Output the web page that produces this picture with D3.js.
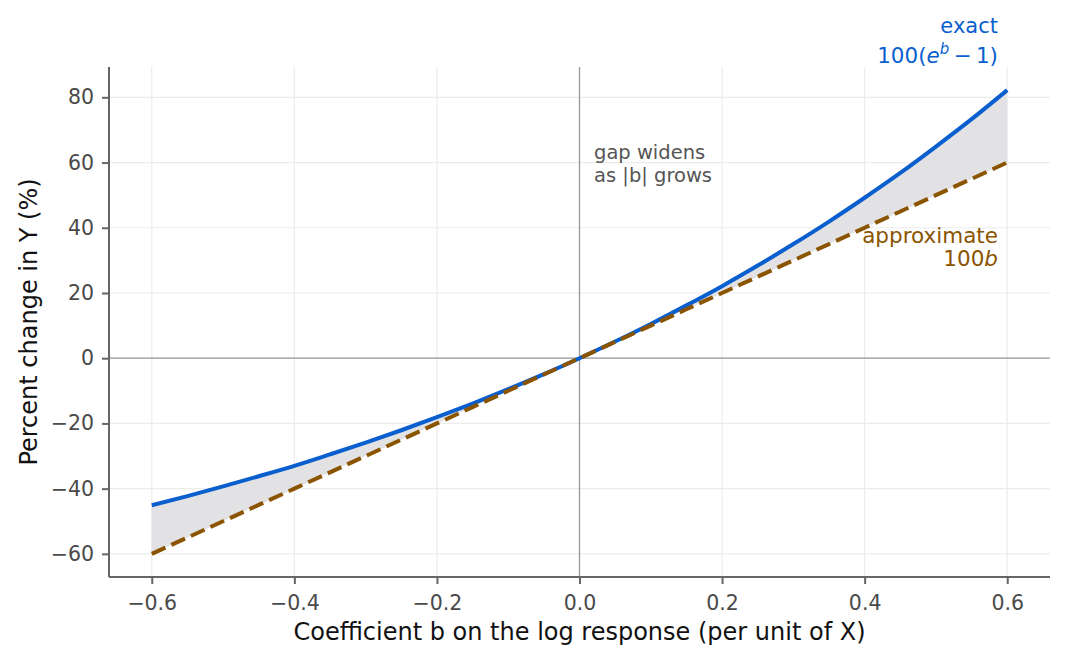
<!DOCTYPE html>
<html>
<head>
<meta charset="utf-8">
<script src="https://cdn.jsdelivr.net/npm/d3@7"></script>
<style>
body { margin: 0; background: #fff; }
svg { font-family: "DejaVu Sans", sans-serif; }
</style>
</head>
<body>
<svg id="chart" width="1068" height="662"></svg>
<script>
// coefficient values along the x axis
var bValues = [-0.6, -0.55, -0.5, -0.45, -0.4, -0.35, -0.3, -0.25, -0.2, -0.15, -0.1, -0.05,
	0, 0.05, 0.1, 0.15, 0.2, 0.25, 0.3, 0.35, 0.4, 0.45, 0.5, 0.55, 0.6];
// exact percent change
var exactPct = [-45.1, -42.3, -39.3, -36.2, -33.0, -29.5, -25.9, -22.1, -18.1, -13.9, -9.5, -4.9,
	0, 5.1, 10.5, 16.2, 22.1, 28.4, 35.0, 41.9, 49.2, 56.8, 64.9, 73.3, 82.2];
// approximate percent change
var approxPct = [-60, -55, -50, -45, -40, -35, -30, -25, -20, -15, -10, -5,
	0, 5, 10, 15, 20, 25, 30, 35, 40, 45, 50, 55, 60];
var xTicks = [-0.6, -0.4, -0.2, 0.0, 0.2, 0.4, 0.6];
var yTicks = [-60, -40, -20, 0, 20, 40, 60, 80];

var svg = d3.select("#chart");
// plot box (avoid "top", it's window.top)
var plotL = 109, plotR = 1050, plotT = 67, plotB = 577;

var x = d3.scaleLinear().domain([-0.66, 0.66]).range([plotL, plotR]);
var y = d3.scaleLinear().domain([-67.1, 89.3]).range([plotB, plotT]);

var rows = bValues.map(function(b, i) { return { b: b, e: exactPct[i], a: approxPct[i] }; });

var blue = "#0a5fcf", brown = "#8b5400";

// grid
svg.append("g").selectAll("line").data(xTicks).enter().append("line")
	.attr("x1", function(d) { return x(d); }).attr("x2", function(d) { return x(d); })
	.attr("y1", plotT).attr("y2", plotB)
	.attr("stroke", "#ececec").attr("stroke-width", 1.2);
svg.append("g").selectAll("line").data(yTicks).enter().append("line")
	.attr("x1", plotL).attr("x2", plotR)
	.attr("y1", function(d) { return y(d); }).attr("y2", function(d) { return y(d); })
	.attr("stroke", "#ececec").attr("stroke-width", 1.2);

// zero reference lines
svg.append("line").attr("x1", x(0)).attr("x2", x(0)).attr("y1", plotT).attr("y2", plotB)
	.attr("stroke", "#9a9a9a").attr("stroke-width", 1.3);
svg.append("line").attr("x1", plotL).attr("x2", plotR).attr("y1", y(0)).attr("y2", y(0))
	.attr("stroke", "#9a9a9a").attr("stroke-width", 1.3);

// gap area
var area = d3.area()
	.x(function(d) { return x(d.b); })
	.y0(function(d) { return y(d.a); })
	.y1(function(d) { return y(d.e); })
	.curve(d3.curveMonotoneX);
svg.append("path").datum(rows).attr("d", area)
	.attr("fill", "#e2e2e4").attr("stroke", "none");

var exactLine = d3.line().x(function(d) { return x(d.b); }).y(function(d) { return y(d.e); })
	.curve(d3.curveMonotoneX);
var approxLine = d3.line().x(function(d) { return x(d.b); }).y(function(d) { return y(d.a); });

svg.append("path").datum(rows).attr("d", exactLine)
	.attr("fill", "none").attr("stroke", blue).attr("stroke-width", 4);
svg.append("path").datum(rows).attr("d", approxLine)
	.attr("fill", "none").attr("stroke", brown).attr("stroke-width", 4)
	.attr("stroke-dasharray", "15,6.5");

// axes
var minus = function(s) { return s.replace("-", "\u2212"); };
var xAxis = d3.axisBottom(x).tickValues(xTicks).tickSizeOuter(0).tickSize(7).tickPadding(11)
	.tickFormat(function(d) { return minus(d3.format(".1f")(d)); });
var yAxis = d3.axisLeft(y).tickValues(yTicks).tickSizeOuter(0).tickSize(7).tickPadding(8)
	.tickFormat(function(d) { return minus(String(d)); });

var gx = svg.append("g").attr("transform", "translate(0," + plotB + ")").call(xAxis);
var gy = svg.append("g").attr("transform", "translate(" + plotL + ",0)").call(yAxis);
[gx, gy].forEach(function(g) {
	g.attr("font-size", null).attr("font-family", null);
	g.select(".domain").attr("stroke", "#666").attr("stroke-width", 2);
	g.selectAll(".tick line").attr("stroke", "#666").attr("stroke-width", 2);
	g.selectAll(".tick text").attr("fill", "#4a4a4a").attr("font-size", "20.5px");
});
gx.select(".domain").attr("d", "M" + plotL + ",0H" + plotR);
gy.select(".domain").attr("d", "M0," + plotB + "V" + plotT);

// axis labels
svg.append("text").attr("x", (plotL + plotR) / 2).attr("y", 640)
	.attr("text-anchor", "middle").attr("font-size", "24px").attr("fill", "#111")
	.text("Coefficient b on the log response (per unit of X)");
svg.append("text").attr("transform", "translate(37," + ((plotT + plotB) / 2) + ") rotate(-90)")
	.attr("text-anchor", "middle").attr("font-size", "24px").attr("fill", "#111")
	.text("Percent change in Y (%)");

// annotations
svg.append("text").attr("x", 998).attr("y", 33).attr("text-anchor", "end")
	.attr("font-size", "21px").attr("fill", blue).text("exact");
var t2 = svg.append("text").attr("x", 998).attr("y", 63).attr("text-anchor", "end")
	.attr("font-size", "21.5px").attr("fill", blue);
t2.append("tspan").text("100(");
t2.append("tspan").attr("font-style", "italic").text("e");
t2.append("tspan").attr("font-style", "italic").attr("font-size", "15px").attr("dy", -9).text("b");
t2.append("tspan").attr("dy", 9).text("\u2009\u2212\u20091)");

svg.append("text").attr("x", 998).attr("y", 243).attr("text-anchor", "end")
	.attr("font-size", "21.5px").attr("fill", brown).text("approximate");
var t4 = svg.append("text").attr("x", 998).attr("y", 266).attr("text-anchor", "end")
	.attr("font-size", "21.5px").attr("fill", brown);
t4.append("tspan").text("100");
t4.append("tspan").attr("font-style", "italic").text("b");

svg.append("text").attr("x", 594).attr("y", 159).attr("font-size", "19.5px").attr("fill", "#555")
	.text("gap widens");
svg.append("text").attr("x", 594).attr("y", 182).attr("font-size", "19.5px").attr("fill", "#555")
	.text("as |b| grows");
</script>
</body>
</html>
